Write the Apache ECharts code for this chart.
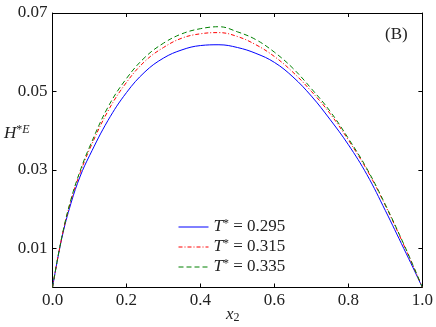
<!DOCTYPE html>
<html>
<head>
<meta charset="utf-8">
<script src="https://cdn.jsdelivr.net/npm/echarts@6/dist/echarts.min.js"></script>
<style>
  html, body { margin: 0; padding: 0; background: #fff; }
  #chart { width: 436px; height: 327px; }
</style>
</head>
<body>
<div id="chart"></div>
<script>
// x2 values where the curves were read
var x2 = [0, 0.025, 0.05, 0.075, 0.1, 0.15, 0.2, 0.25, 0.3, 0.35, 0.4, 0.45, 0.5,
          0.55, 0.6, 0.65, 0.7, 0.75, 0.8, 0.85, 0.9, 0.95, 0.975, 1.0];
// H*E for each reduced temperature
var h295 = [0, 0.0125, 0.0215, 0.0284, 0.0336, 0.0426, 0.0497, 0.0550, 0.0585, 0.0606, 0.0617, 0.0619, 0.0612,
            0.0597, 0.0574, 0.0537, 0.0488, 0.0429, 0.0364, 0.0288, 0.0196, 0.0099, 0.0050, 0];
var h315 = [0, 0.0127, 0.0222, 0.0293, 0.0352, 0.0450, 0.0523, 0.0577, 0.0612, 0.0636, 0.0647, 0.0650, 0.0640,
            0.0619, 0.0589, 0.0549, 0.0500, 0.0444, 0.0376, 0.0300, 0.0209, 0.0108, 0.0055, 0];
var h335 = [0, 0.0128, 0.0225, 0.0298, 0.0358, 0.0460, 0.0533, 0.0587, 0.0623, 0.0647, 0.0660, 0.0665, 0.0652,
            0.0632, 0.0600, 0.0559, 0.0507, 0.0450, 0.0380, 0.0303, 0.0211, 0.0110, 0.0056, 0];
var tStars = ['0.295', '0.315', '0.335'];
var yTicks = [0.01, 0.03, 0.05, 0.07];

function pairs(ys) {
    return x2.map(function (x, i) { return [x, ys[i]]; });
}

var font = 'Liberation Serif';
var chart = echarts.init(document.getElementById('chart'));

var baseX = {
    type: 'value', min: 0, max: 1, interval: 0.2,
    axisLine: { onZero: false, lineStyle: { color: '#000', width: 1 } },
    axisTick: { inside: true, length: 4, lineStyle: { color: '#000' } },
    splitLine: { show: false }
};
var baseY = {
    type: 'value', min: 0, max: 0.07,
    axisLine: { show: true, onZero: false, lineStyle: { color: '#000', width: 1 } },
    axisTick: { inside: true, length: 4, customValues: yTicks, lineStyle: { color: '#000' } },
    splitLine: { show: false }
};

chart.setOption({
    animation: false,
    backgroundColor: '#fff',
    grid: { left: 52.5, right: 13.5, top: 13, bottom: 39.5 },
    xAxis: [
        Object.assign({}, baseX, {
            position: 'bottom',
            axisLabel: {
                margin: 5, color: '#222', fontFamily: font, fontSize: 17,
                formatter: function (v) { return v.toFixed(1); }
            }
        }),
        Object.assign({}, baseX, { position: 'top', axisLabel: { show: false } })
    ],
    yAxis: [
        Object.assign({}, baseY, {
            position: 'left',
            axisLabel: {
                margin: 5, color: '#222', fontFamily: font, fontSize: 17,
                customValues: yTicks,
                formatter: function (v) { return v.toFixed(2); }
            }
        }),
        Object.assign({}, baseY, { position: 'right', axisLabel: { show: false } })
    ],
    legend: {
        orient: 'vertical',
        left: 173, top: 213,
        itemWidth: 30, itemHeight: 10, itemGap: 2,
        itemStyle: { opacity: 0 },
        lineStyle: { width: 1 },
        textStyle: {
            fontFamily: font, fontSize: 17, color: '#222', lineHeight: 18,
            rich: {
                i: { fontFamily: font, fontSize: 17, fontStyle: 'italic', color: '#222', lineHeight: 18 },
                s: { fontFamily: font, fontSize: 12, color: '#222', verticalAlign: 'top', lineHeight: 18 },
                n: { fontFamily: font, fontSize: 17, color: '#222', lineHeight: 18 }
            }
        },
        formatter: function (name) {
            return '{i|T}{s|*}{n| = ' + name + '}';
        }
    },
    graphic: [
        {
            type: 'text', left: 4, top: 124,
            style: {
                text: '{i|H}{s|*}{e|E}',
                rich: {
                    i: { fontFamily: font, fontSize: 17, fontStyle: 'italic', fill: '#222' },
                    s: { fontFamily: font, fontSize: 12, fill: '#222', padding: [0, 0, 8, 0] },
                    e: { fontFamily: font, fontSize: 12, fontStyle: 'italic', fill: '#222', padding: [0, 0, 8, 0] }
                }
            }
        },
        {
            type: 'text', left: 226, top: 306,
            style: {
                text: '{i|x}{s|2}',
                rich: {
                    i: { fontFamily: font, fontSize: 17, fontStyle: 'italic', fill: '#222' },
                    s: { fontFamily: font, fontSize: 12, fill: '#222', padding: [6, 0, 0, 0] }
                }
            }
        },
        {
            type: 'text', left: 385, top: 26,
            style: { text: '(B)', fontFamily: font, fontSize: 17, fill: '#222' }
        }
    ],
    series: [
        {
            name: tStars[0], type: 'line', smooth: 0.4, symbol: 'none',
            data: pairs(h295),
            lineStyle: { color: '#0000ff', width: 1, type: 'solid' },
            itemStyle: { color: '#0000ff' }
        },
        {
            name: tStars[1], type: 'line', smooth: 0.4, symbol: 'none',
            data: pairs(h315),
            lineStyle: { color: '#ff0000', width: 1, type: [4, 2, 1, 2] },
            itemStyle: { color: '#ff0000' }
        },
        {
            name: tStars[2], type: 'line', smooth: 0.4, symbol: 'none',
            data: pairs(h335),
            lineStyle: { color: '#008000', width: 1, type: [5, 3] },
            itemStyle: { color: '#008000' }
        }
    ]
});
</script>
</body>
</html>
